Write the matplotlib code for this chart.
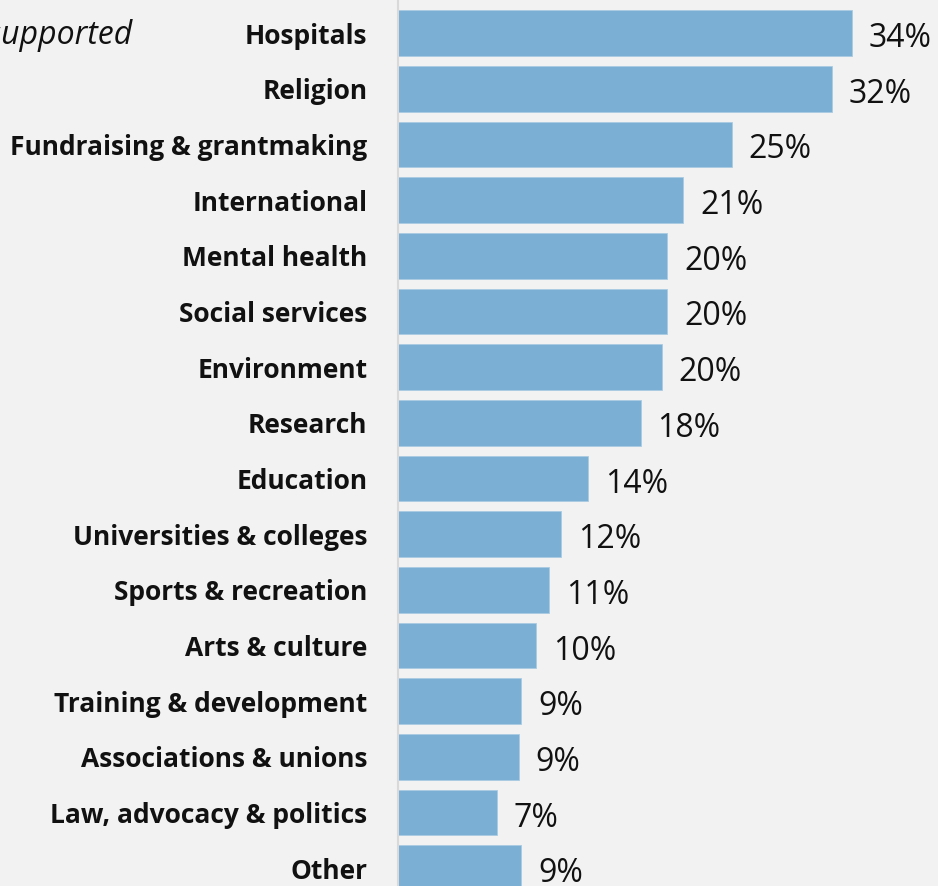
import matplotlib.pyplot as plt

causes = [
    "Hospitals", "Religion", "Fundraising & grantmaking", "International",
    "Mental health", "Social services", "Environment", "Research",
    "Education", "Universities & colleges", "Sports & recreation",
    "Arts & culture", "Training & development", "Associations & unions",
    "Law, advocacy & politics", "Other",
]
share = [33.9, 32.4, 24.9, 21.3, 20.1, 20.1, 19.7, 18.1,
         14.2, 12.2, 11.3, 10.3, 9.2, 9.0, 7.4, 9.2]

BG = "#f2f2f2"
BAR = "#7bafd4"

plt.rcParams["font.family"] = ["Open Sans", "DejaVu Sans"]

fig = plt.figure(figsize=(9.38, 8.86), dpi=100, facecolor=BG)
ax = fig.add_axes([398 / 938, 0, 540 / 938, 1], facecolor=BG)

pos = list(range(len(causes)))
ax.barh(pos, share, height=0.82, color=BAR, edgecolor="#a9cbe4", linewidth=0.6)

for y, v in zip(pos, share):
    ax.text(v + 1.25, y + 0.1, f"{v:.0f}%", va="center", ha="left",
            fontsize=23, color="#111111")

ax.set_xlim(0, 540 / 13.4)
ax.set_ylim(15.32, -0.593)
ax.set_yticks(pos)
ax.set_yticklabels(causes, fontsize=19, fontweight="bold", color="#111111")
ax.tick_params(axis="y", length=0, pad=22)
ax.set_xticks([])

for side in ("top", "right", "bottom"):
    ax.spines[side].set_visible(False)
ax.spines["left"].set_color("#d9d9d9")
ax.spines["left"].set_linewidth(1.5)

fig.text(132 / 938, 1 - 35 / 886, "Causes supported", ha="right", va="center",
         fontsize=23, style="italic", color="#111111")

fig.savefig("out.png", dpi=100, facecolor=BG)
